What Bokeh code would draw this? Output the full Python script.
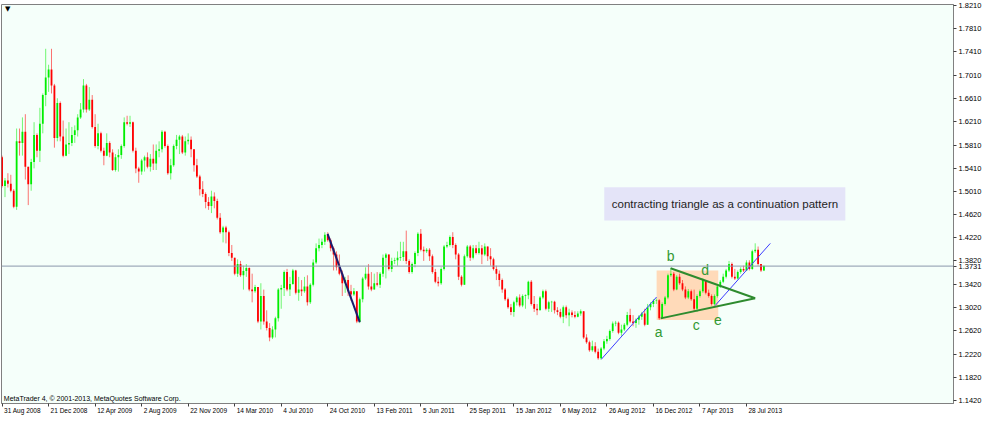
from bokeh.plotting import figure
from bokeh.models import (ColumnDataSource, FixedTicker, Span, Label, BoxAnnotation,
                          Range1d, NumeralTickFormatter, LinearAxis)
from bokeh.core.properties import value
from bokeh.embed import file_html
from bokeh.resources import INLINE

# ---------------- data (weekly candles, 31 Aug 2008 .. Sep 2013) ----------------
first_open = 1.5601
closes = [
    1.5108, 1.5201, 1.5147, 1.5026, 1.4752, 1.5875, 1.5848, 1.6040, 1.5437, 1.5136,
    1.5519, 1.5985, 1.5711, 1.6177, 1.6670, 1.6971, 1.7108, 1.6834, 1.5930, 1.6533,
    1.5958, 1.5629, 1.5821, 1.5848, 1.5985, 1.6067, 1.6286, 1.6423, 1.6834, 1.6423,
    1.6588, 1.6122, 1.5793, 1.6012, 1.5711, 1.5629, 1.5848, 1.5684, 1.5382, 1.5601,
    1.5640, 1.5793, 1.6204, 1.6177, 1.6204, 1.5711, 1.5410, 1.5355, 1.5547, 1.5601,
    1.5437, 1.5574, 1.5492, 1.5711, 1.5738, 1.6040, 1.5793, 1.5327, 1.5464, 1.5793,
    1.5903, 1.5958, 1.5684, 1.5875, 1.5903, 1.5738, 1.5464, 1.5272, 1.5053, 1.4971,
    1.4834, 1.4763, 1.4927, 1.4850, 1.4560, 1.4313, 1.4395, 1.4313, 1.3957, 1.3875,
    1.3601, 1.3765, 1.3573, 1.3645, 1.3699, 1.3327, 1.3299, 1.3371, 1.2779, 1.3217,
    1.2779, 1.2669, 1.2505, 1.2642, 1.2834, 1.3327, 1.3354, 1.3628, 1.3327, 1.3425,
    1.3656, 1.3272, 1.3327, 1.3299, 1.3382, 1.3108, 1.3409, 1.3793, 1.4039, 1.4094,
    1.4149, 1.4269, 1.4176, 1.4039, 1.3930, 1.3710, 1.3601, 1.3436, 1.3491, 1.3299,
    1.3245, 1.3299, 1.2779, 1.3162, 1.3519, 1.3601, 1.3382, 1.3327, 1.3436, 1.3409,
    1.3601, 1.3875, 1.3930, 1.3683, 1.3820, 1.3831, 1.3875, 1.3886, 1.3984, 1.3820,
    1.3628, 1.3765, 1.3957, 1.4286, 1.4012, 1.3984, 1.4012, 1.3902, 1.3628, 1.3464,
    1.3436, 1.3683, 1.4067, 1.4094, 1.4231, 1.4094, 1.3930, 1.3546, 1.3409, 1.3902,
    1.4067, 1.3875, 1.4039, 1.3957, 1.4039, 1.3930, 1.4067, 1.3902, 1.3847, 1.3683,
    1.3601, 1.3491, 1.3327, 1.3162, 1.3025, 1.2943, 1.3108, 1.3190, 1.3053, 1.3217,
    1.3228, 1.3464, 1.3080, 1.2998, 1.2971, 1.3190, 1.3299, 1.2998, 1.3108, 1.3119,
    1.2971, 1.2943, 1.2861, 1.3025, 1.2888, 1.2932, 1.2889, 1.2861, 1.2916, 1.2955,
    1.2505, 1.2423, 1.2286, 1.2352, 1.2259, 1.2149, 1.2313, 1.2439, 1.2478, 1.2615,
    1.2746, 1.2757, 1.2587, 1.2642, 1.2724, 1.2889, 1.2779, 1.2752, 1.2807, 1.2861,
    1.2916, 1.2724, 1.3026, 1.3081, 1.3135, 1.3146, 1.2834, 1.3081, 1.3190, 1.3574,
    1.3601, 1.3327, 1.3546, 1.3437, 1.3327, 1.3190, 1.3300, 1.3163, 1.2998, 1.3218,
    1.3300, 1.3492, 1.3272, 1.3218, 1.3081, 1.3218, 1.3382, 1.3464, 1.3546, 1.3656,
    1.3766, 1.3546, 1.3519, 1.3629, 1.3683, 1.3656, 1.3793, 1.3683, 1.3985, 1.4012,
    1.3766, 1.3656, 1.3731,
]
highs = [
    1.5629, 1.5245, 1.5327, 1.5300, 1.5053, 1.6095, 1.6095, 1.6286, 1.6341, 1.5437,
    1.5574, 1.6204, 1.6012, 1.6451, 1.6697, 1.7465, 1.7191, 1.7465, 1.6862, 1.6615,
    1.6560, 1.6232, 1.6095, 1.6204, 1.6122, 1.6149, 1.6341, 1.6533, 1.6944, 1.6862,
    1.6807, 1.6670, 1.6341, 1.6177, 1.6040, 1.5766, 1.6012, 1.5875, 1.5738, 1.5656,
    1.5738, 1.5821, 1.6286, 1.6314, 1.6314, 1.6215, 1.5766, 1.5437, 1.5574, 1.5629,
    1.5684, 1.5656, 1.5821, 1.5821, 1.5875, 1.6067, 1.6056, 1.5821, 1.5574, 1.5821,
    1.5985, 1.5985, 1.5985, 1.5958, 1.6012, 1.5958, 1.5740, 1.5574, 1.5300, 1.5190,
    1.4998, 1.4916, 1.5026, 1.4998, 1.4889, 1.4642, 1.4423, 1.4423, 1.4341, 1.4094,
    1.3875, 1.3847, 1.3820, 1.3738, 1.3765, 1.3710, 1.3601, 1.3409, 1.3354, 1.3436,
    1.3327, 1.2971, 1.2751, 1.2697, 1.2861, 1.3354, 1.3409, 1.3656, 1.3683, 1.3546,
    1.3683, 1.3667, 1.3546, 1.3491, 1.3546, 1.3573, 1.3436, 1.3847, 1.4121, 1.4204,
    1.4204, 1.4313, 1.4313, 1.4204, 1.4067, 1.3984, 1.3930, 1.3656, 1.3546, 1.3573,
    1.3409, 1.3354, 1.3245, 1.3190, 1.3546, 1.3710, 1.3765, 1.3628, 1.3601, 1.3628,
    1.3628, 1.3930, 1.3957, 1.3793, 1.3875, 1.3875, 1.3984, 1.4149, 1.4149, 1.4341,
    1.3847, 1.3793, 1.3984, 1.4313, 1.4368, 1.4067, 1.4039, 1.4039, 1.3930, 1.3683,
    1.3546, 1.3710, 1.4094, 1.4149, 1.4258, 1.4313, 1.4121, 1.3957, 1.3573, 1.3930,
    1.4094, 1.4094, 1.4094, 1.4094, 1.4149, 1.4094, 1.4121, 1.4067, 1.4039, 1.3875,
    1.3738, 1.3656, 1.3518, 1.3354, 1.3190, 1.3080, 1.3135, 1.3217, 1.3245, 1.3245,
    1.3245, 1.3480, 1.3491, 1.3217, 1.3080, 1.3217, 1.3327, 1.3327, 1.3135, 1.3135,
    1.3135, 1.3025, 1.2998, 1.3053, 1.3053, 1.2998, 1.2971, 1.2955, 1.2955, 1.2987,
    1.2900, 1.2560, 1.2450, 1.2450, 1.2423, 1.2313, 1.2341, 1.2478, 1.2533, 1.2642,
    1.2779, 1.2790, 1.2779, 1.2724, 1.2752, 1.2944, 1.2998, 1.2889, 1.2834, 1.2889,
    1.2944, 1.2998, 1.3081, 1.3108, 1.3163, 1.3174, 1.3163, 1.3108, 1.3218, 1.3601,
    1.3694, 1.3629, 1.3574, 1.3601, 1.3492, 1.3382, 1.3338, 1.3327, 1.3327, 1.3245,
    1.3327, 1.3519, 1.3464, 1.3327, 1.3245, 1.3245, 1.3409, 1.3492, 1.3601, 1.3683,
    1.3820, 1.3793, 1.3683, 1.3656, 1.3711, 1.3738, 1.3831, 1.3831, 1.4012, 1.4122,
    1.4067, 1.3766, 1.3744,
]
lows = [
    1.5081, 1.4916, 1.5081, 1.4999, 1.4725, 1.4697, 1.5629, 1.5629, 1.5218, 1.4779,
    1.5026, 1.5410, 1.5601, 1.5519, 1.6012, 1.6478, 1.6725, 1.6697, 1.5766, 1.5875,
    1.5875, 1.5601, 1.5618, 1.5656, 1.5793, 1.5848, 1.5958, 1.6259, 1.6369, 1.6369,
    1.6396, 1.6095, 1.5766, 1.5738, 1.5684, 1.5464, 1.5618, 1.5601, 1.5366, 1.5355,
    1.5355, 1.5574, 1.5766, 1.6149, 1.6122, 1.5684, 1.5327, 1.5163, 1.5300, 1.5355,
    1.5410, 1.5355, 1.5382, 1.5382, 1.5601, 1.5684, 1.5766, 1.5300, 1.5218, 1.5437,
    1.5738, 1.5656, 1.5656, 1.5629, 1.5821, 1.5601, 1.5354, 1.5245, 1.4943, 1.4916,
    1.4724, 1.4697, 1.4642, 1.4724, 1.4532, 1.4286, 1.4138, 1.4121, 1.3902, 1.3820,
    1.3573, 1.3546, 1.3546, 1.3327, 1.3546, 1.3299, 1.3108, 1.3272, 1.2751, 1.2642,
    1.2724, 1.2625, 1.2439, 1.2477, 1.2505, 1.2779, 1.2998, 1.3217, 1.3299, 1.3217,
    1.3409, 1.3245, 1.3135, 1.3217, 1.3272, 1.3053, 1.3080, 1.3382, 1.3765, 1.3984,
    1.4039, 1.4094, 1.4149, 1.3984, 1.3656, 1.3656, 1.3573, 1.3217, 1.3272, 1.3217,
    1.3135, 1.3217, 1.2751, 1.2751, 1.3108, 1.3491, 1.3327, 1.3299, 1.3382, 1.3382,
    1.3354, 1.3546, 1.3519, 1.3656, 1.3628, 1.3765, 1.3738, 1.3820, 1.3820, 1.3765,
    1.3601, 1.3601, 1.3710, 1.3902, 1.3984, 1.3820, 1.3957, 1.3820, 1.3601, 1.3436,
    1.3382, 1.3409, 1.3656, 1.4039, 1.4067, 1.4039, 1.3847, 1.3491, 1.3382, 1.3409,
    1.3875, 1.3820, 1.3847, 1.3930, 1.3930, 1.3765, 1.3902, 1.3820, 1.3738, 1.3656,
    1.3491, 1.3382, 1.3272, 1.3135, 1.2998, 1.2888, 1.2861, 1.3053, 1.3025, 1.3025,
    1.2998, 1.3162, 1.3053, 1.2943, 1.2888, 1.2998, 1.3162, 1.2971, 1.2943, 1.2943,
    1.2916, 1.2888, 1.2834, 1.2751, 1.2834, 1.2697, 1.2850, 1.2834, 1.2850, 1.2878,
    1.2478, 1.2396, 1.2259, 1.2259, 1.2231, 1.2122, 1.2122, 1.2286, 1.2396, 1.2450,
    1.2587, 1.2697, 1.2560, 1.2533, 1.2615, 1.2697, 1.2752, 1.2697, 1.2670, 1.2724,
    1.2807, 1.2697, 1.2724, 1.2971, 1.3026, 1.3081, 1.2807, 1.2823, 1.3053, 1.3163,
    1.3546, 1.3300, 1.3316, 1.3409, 1.3300, 1.3163, 1.3163, 1.3135, 1.2955, 1.2944,
    1.3190, 1.3272, 1.3245, 1.3190, 1.3053, 1.3053, 1.3190, 1.3355, 1.3437, 1.3519,
    1.3629, 1.3519, 1.3492, 1.3503, 1.3601, 1.3629, 1.3645, 1.3656, 1.3667, 1.3957,
    1.3738, 1.3629, 1.3645,
]
assert len(closes) == len(highs) == len(lows) == 263

x_tick_weeks = [0, 16, 32, 48, 64, 80, 96, 112, 128, 144, 160, 176, 192, 208, 224, 240, 256]
x_tick_labels = ["31 Aug 2008", "21 Dec 2008", "12 Apr 2009", "2 Aug 2009", "22 Nov 2009",
                 "14 Mar 2010", "4 Jul 2010", "24 Oct 2010", "13 Feb 2011", "5 Jun 2011",
                 "25 Sep 2011", "15 Jan 2012", "6 May 2012", "26 Aug 2012", "16 Dec 2012",
                 "7 Apr 2013", "28 Jul 2013"]
y_ticks = [1.1420, 1.1820, 1.2220, 1.2620, 1.3020, 1.3420, 1.3820, 1.4220, 1.4620,
           1.5010, 1.5410, 1.5810, 1.6210, 1.6610, 1.7010, 1.7410, 1.7810, 1.8210]
last_price = 1.3731

# drawn objects (week index, price)
navy_x = [111.95, 123.0]
navy_y = [1.4285, 1.2768]
blue1_x = [206.1, 225.1]
blue1_y = [1.2131, 1.3200]
blue2_x = [245.2, 264.2]
blue2_y = [1.3052, 1.4121]
tri_low_x = [226.5, 259.0]
tri_low_y = [1.2833, 1.3179]
tri_up_x = [229.9, 259.0]
tri_up_y = [1.3693, 1.3179]
wave_labels = ["a", "b", "c", "d", "e"]
wave_x = [225.8, 229.9, 238.7, 241.8, 246.2]
wave_y = [1.2603, 1.3902, 1.2718, 1.3672, 1.2800]
zone_box = dict(left=225.1, right=246.3, bottom=1.2806, top=1.3656)
note_box = dict(left=207.1, right=290.0, bottom=1.4513, top=1.5086)
note_text = "contracting triangle as a continuation pattern"
note_x, note_y = 248.6, 1.4795

# ---------------- layout constants ----------------
FRAME_W = 952
X0, X1 = -0.2, 327.2
Y0, Y1 = 1.1370, 1.8226
px_per_bar = FRAME_W / (X1 - X0)
XLAB_SIZE = 6.5

# Arial-like glyph advance widths (em/1000) to left-align date labels after their tick
ARIAL = {" ": 278, "A": 667, "D": 722, "F": 611, "J": 500, "M": 833, "N": 722, "O": 778,
         "S": 667, "a": 556, "b": 556, "c": 500, "e": 556, "g": 556, "l": 222, "n": 556,
         "o": 556, "p": 556, "r": 333, "t": 278, "u": 556, "v": 500, "y": 500}
def text_w(s, size):
    return sum(ARIAL.get(ch, 556) for ch in s) / 1000.0 * size

# ---------------- candles ----------------
opens = [first_open] + closes[:-1]
xs = list(range(len(closes)))
hi = [max(h, o, c) for h, o, c in zip(highs, opens, closes)]
lo = [min(l, o, c) for l, o, c in zip(lows, opens, closes)]
up = [c >= o for o, c in zip(opens, closes)]
col = ["#00EE00" if u else "#FF0000" for u in up]
src = ColumnDataSource(dict(x=xs, top=[max(o, c) for o, c in zip(opens, closes)],
                            bottom=[min(o, c) for o, c in zip(opens, closes)],
                            hi=hi, lo=lo, color=col))

p = figure(frame_width=FRAME_W, height=416, output_backend="svg", toolbar_location=None,
           x_range=Range1d(X0, X1), y_range=Range1d(Y0, Y1), y_axis_location="right",
           min_border_left=1, min_border_top=4, min_border_right=1, min_border_bottom=0)
p.background_fill_color = "#F5FFFA"
p.border_fill_color = "white"
p.outline_line_color = "#808080"
p.grid.visible = False

p.add_layout(BoxAnnotation(fill_color="#FFDAB9", fill_alpha=1, line_color=None,
                           level="underlay", **zone_box))
p.add_layout(BoxAnnotation(fill_color="#E4E4F8", fill_alpha=1, line_color=None,
                           level="underlay", **note_box))

p.segment(x0="x", x1="x", y0="lo", y1="hi", color="color", line_alpha=0.55, line_width=1, source=src)
p.vbar(x="x", width=0.62, top="top", bottom="bottom", fill_color="color", line_color=None, source=src)

p.add_layout(Span(location=last_price, dimension="width", line_color="#8A98AC", line_width=1))

p.line(navy_x, navy_y, line_color="#1C1C6E", line_width=2)
p.line(blue1_x, blue1_y, line_color="#3C3CFF", line_width=1)
p.line(blue2_x, blue2_y, line_color="#3C3CFF", line_width=1)
p.line(tri_low_x, tri_low_y, line_color="#2E8B2E", line_width=2)
p.line(tri_up_x, tri_up_y, line_color="#2E8B2E", line_width=2)

p.text(x=wave_x, y=wave_y, text=wave_labels, text_font=value("Liberation Sans"),
       text_font_size="14px", text_color="#339933", text_align="center", text_baseline="middle")
p.text(x=[note_x], y=[note_y], text=[note_text], text_font=value("Liberation Sans"),
       text_font_size="11.5px", text_color="#1E1E1E", text_align="center", text_baseline="middle")

p.add_layout(Label(x=0.6, y=1.1402, text="MetaTrader 4, \u00a9 2001-2013, MetaQuotes Software Corp.",
                   text_font="Liberation Sans", text_font_size="7px", text_color="#000000",
                   text_baseline="bottom"))
p.add_layout(Label(x=1.0, y=1.8150, text="\u25bc", text_font="DejaVu Sans", text_font_size="7px",
                   text_color="#000000", text_baseline="middle"))

# ---------------- axes ----------------
# bottom axis 1: axis line + tick marks at the label dates (no visible labels)
xa = p.xaxis[0]
xa.ticker = FixedTicker(ticks=x_tick_weeks)
xa.major_label_overrides = {w: "" for w in x_tick_weeks}
xa.major_label_text_font_size = "1px"
xa.major_label_standoff = 0
xa.axis_line_color = "#808080"
xa.major_tick_line_color = "#404040"
xa.major_tick_in = 0
xa.major_tick_out = 3
xa.minor_tick_line_color = None

# bottom axis 2: date labels, each starting just right of its tick
label_pos = [w + (text_w(t, XLAB_SIZE) / 2 + 2) / px_per_bar for w, t in zip(x_tick_weeks, x_tick_labels)]
xa2 = LinearAxis(ticker=FixedTicker(ticks=label_pos),
                 major_label_overrides={pos: t for pos, t in zip(label_pos, x_tick_labels)},
                 axis_line_color=None, major_tick_line_color=None, minor_tick_line_color=None,
                 major_tick_out=0, major_tick_in=0,
                 major_label_standoff=0, major_label_text_font="Liberation Sans",
                 major_label_text_font_size=f"{XLAB_SIZE}px", major_label_text_color="#000000")
p.add_layout(xa2, "below")

# price scale on the right (the current price is shown as its own scale label)
ya = p.yaxis[0]
ya.ticker = FixedTicker(ticks=y_ticks + [last_price])
ya.formatter = NumeralTickFormatter(format="0.0000")
ya.major_label_standoff = 2
ya.major_label_text_font = "Liberation Sans"
ya.major_label_text_font_size = "7.5px"
ya.major_label_text_color = "#000000"
ya.axis_line_color = "#808080"
ya.major_tick_line_color = "#404040"
ya.major_tick_in = 0
ya.major_tick_out = 3
ya.minor_tick_line_color = None

open("out.html", "w").write(file_html(p, INLINE))
